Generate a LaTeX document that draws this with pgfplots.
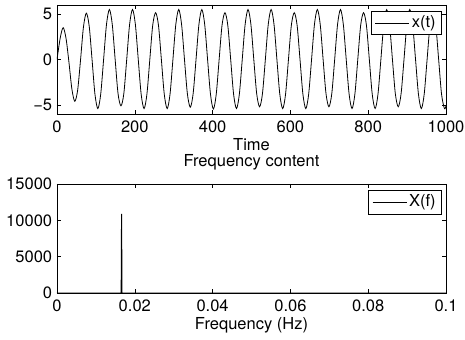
\documentclass[border=0pt]{standalone}
\usepackage{fontspec}
\setmainfont{TeX Gyre Heros}
\usepackage{pgfplots}
\pgfplotsset{compat=1.18}

\pgfplotsset{
 mstyle/.style={
  scale only axis, width=389bp, height=109bp, anchor=south west,
  axis line style={line width=0.6bp},
  every tick/.style={black, line width=0.6bp},
  major tick length=4bp,
  tick align=inside,
  scaled x ticks=false, scaled y ticks=false,
  /pgf/number format/assume math mode=true,
  xticklabel style={anchor=base, yshift=-18.3bp, inner sep=0pt},
  yticklabel style={anchor=east, inner sep=0pt, xshift=-4.7bp},
  xlabel style={at={(axis description cs:0.5,0)}, anchor=base, yshift=-36.5bp, inner sep=0pt},
  title style={at={(axis description cs:0.5,1)}, anchor=base, yshift=11.7bp, inner sep=0pt},
  legend style={at={(1,1)}, anchor=north east, xshift=-4bp, yshift=-6bp, draw=black, line width=0.6bp, inner xsep=4bp, inner ysep=2.5bp, cells={anchor=west}},
  legend image code/.code={\draw[#1] (0bp,0bp) -- (34bp,0bp);},
 }
}

\pgfplotstableread{
t x
0 0
8.4 2.4
15.9 3.5
23.3 2.3
30.7 -0.3
38.1 -3.2
45.6 -4.6
53.0 -3.4
60.4 -0.1
67.8 3.5
75.3 5.1
82.7 3.7
90.1 0
97.5 -3.8
105.0 -5.4
112.4 -3.8
119.8 0
127.2 3.85
134.7 5.5
142.1 3.85
149.5 0
156.9 -3.75
164.4 -5.1
171.8 -3.75
179.2 0
186.6 3.85
194.1 5.5
201.5 3.85
208.9 0
216.3 -3.8
223.8 -5.4
231.2 -3.8
238.6 0
246.0 3.75
253.5 5.15
260.9 3.75
268.3 0
275.7 -3.8
283.2 -5.4
290.6 -3.8
298.0 0
305.4 3.85
312.9 5.5
320.3 3.85
327.7 0
335.1 -3.75
342.6 -5.25
350.0 -3.75
357.4 0
364.8 3.85
372.3 5.5
379.7 3.85
387.1 0
394.5 -3.8
402.0 -5.45
409.4 -3.8
416.8 0
424.2 3.75
431.7 5.15
439.1 3.75
446.5 0
453.9 -3.8
461.4 -5.4
468.8 -3.8
476.2 0
483.6 3.85
491.1 5.5
498.5 3.85
505.9 0
513.3 -3.75
520.8 -5.2
528.2 -3.75
535.6 0
543.0 3.85
550.5 5.5
557.9 3.85
565.3 0
572.7 -3.8
580.2 -5.4
587.6 -3.8
595.0 0
602.4 3.75
609.9 5.15
617.3 3.75
624.7 0
632.1 -3.8
639.6 -5.4
647.0 -3.8
654.4 0
661.8 3.85
669.3 5.5
676.7 3.85
684.1 0
691.5 -3.75
699.0 -5.2
706.4 -3.75
713.8 0
721.2 3.85
728.7 5.5
736.1 3.85
743.5 0
750.9 -3.8
758.4 -5.4
765.8 -3.8
773.2 0
780.6 3.75
788.1 5.15
795.5 3.75
802.9 0
810.3 -3.8
817.8 -5.4
825.2 -3.8
832.6 0
840.0 3.85
847.5 5.5
854.9 3.85
862.3 0
869.7 -3.75
877.2 -5.2
884.6 -3.75
892.0 0
899.4 3.85
906.9 5.5
914.3 3.85
921.7 0
929.1 -3.8
936.6 -5.4
944.0 -3.8
951.4 0
958.8 3.75
966.3 5.15
973.7 3.75
981.1 0
988.5 -3.8
996.0 -5.4
1000 -5.1
}\signal

\pgfplotstableread{
f X
0 0
0.0100 0
0.0160 0
0.0165 0
0.0166 10900
0.0167 0
0.0200 0
0.0500 0
0.1000 0
}\spectrum

\begin{document}
\fontsize{16.5bp}{19.5bp}\selectfont
\begin{tikzpicture}
\useasboundingbox (0bp,0bp) rectangle (465bp,340bp);
\begin{axis}[mstyle, at={(57bp,226bp)},
  xmin=0, xmax=1000, ymin=-6, ymax=6,
  xtick={0,200,400,600,800,1000},
  xticklabels={0,200,400,600,800,1000},
  ytick={-5,0,5},
  yticklabels={−5,0,5},
  xlabel={Time},
]
\addplot[black, line width=0.8bp, smooth] table[x=t, y=x] {\signal};
\addlegendentry{x(t)}
\end{axis}
\begin{axis}[mstyle, at={(57bp,47bp)},
  xmin=0, xmax=0.1, ymin=0, ymax=15000,
  xtick={0,0.02,0.04,0.06,0.08,0.1},
  xticklabels={0,0.02,0.04,0.06,0.08,0.1},
  ytick={0,5000,10000,15000},
  yticklabels={0,5000,10000,15000},
  xlabel={Frequency (Hz)},
  title={Frequency content},
]
\addplot[black, line width=1bp] table[x=f, y=X] {\spectrum};
\addlegendentry{X(f)}
\end{axis}
\end{tikzpicture}
\end{document}
